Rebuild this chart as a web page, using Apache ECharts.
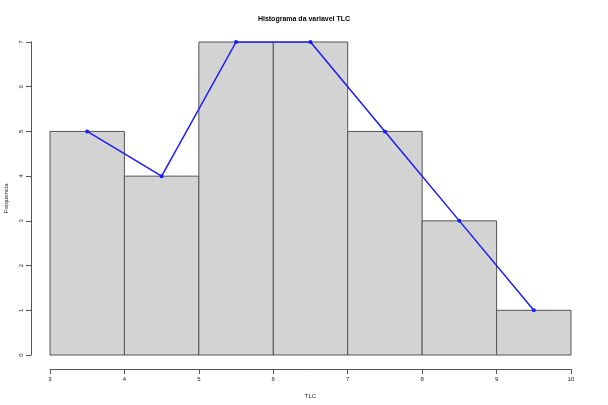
<!DOCTYPE html>
<html>
<head>
<meta charset="utf-8">
<script src="https://cdn.jsdelivr.net/npm/echarts@6/dist/echarts.min.js"></script>
<style>html,body{margin:0;padding:0;background:#fff}#c{width:608px;height:405px}</style>
</head>
<body>
<div id="c"></div>
<script>
var binStart = [3, 4, 5, 6, 7, 8, 9];
var binEnd = [4, 5, 6, 7, 8, 9, 10];
var counts = [5, 4, 7, 7, 5, 3, 1];
var midpoints = [3.5, 4.5, 5.5, 6.5, 7.5, 8.5, 9.5];
var xTicks = [3, 4, 5, 6, 7, 8, 9, 10];
var yTicks = [0, 1, 2, 3, 4, 5, 6, 7];

var chart = echarts.init(document.getElementById('c'));
var barData = binStart.map(function (s, i) { return [s, binEnd[i], counts[i]]; });
var lineData = midpoints.map(function (m, i) { return [m, counts[i]]; });

chart.setOption({
  animation: false,
  title: {
    text: 'Histograma da variavel TLC',
    left: 'center', top: 11,
    textStyle: { fontSize: 7, fontWeight: 'bold', color: '#000', fontFamily: 'Liberation Sans' }
  },
  grid: { left: 50, right: 37, top: 42, bottom: 50, outerBoundsMode: 'none', containLabel: false },
  xAxis: {
    type: 'value', min: 3, max: 10, interval: 1, offset: 14,
    name: 'TLC', nameLocation: 'middle', nameGap: 24,
    nameTextStyle: { fontSize: 6, color: '#222', fontFamily: 'Liberation Sans' },
    axisLine: { show: true, onZero: false, lineStyle: { color: '#555', width: 1 } },
    axisTick: { show: true, length: 5, lineStyle: { color: '#555' } },
    axisLabel: { fontSize: 6, color: '#222', margin: 7, fontFamily: 'Liberation Sans' },
    splitLine: { show: false }
  },
  yAxis: {
    type: 'value', min: 0, max: 7, interval: 1, offset: 19,
    name: 'Frequencia', nameLocation: 'middle', nameGap: 22, nameRotate: 90,
    nameTextStyle: { fontSize: 6, color: '#222', fontFamily: 'Liberation Sans' },
    axisLine: { show: true, onZero: false, lineStyle: { color: '#555', width: 1 } },
    axisTick: { show: true, length: 5, lineStyle: { color: '#555' } },
    axisLabel: { fontSize: 6, color: '#222', margin: 7, rotate: 90, fontFamily: 'Liberation Sans' },
    splitLine: { show: false }
  },
  series: [
    {
      type: 'custom',
      data: barData,
      renderItem: function (params, api) {
        var p0 = api.coord([api.value(0), 0]);
        var p1 = api.coord([api.value(1), api.value(2)]);
        return {
          type: 'rect',
          shape: { x: p0[0], y: p1[1], width: p1[0] - p0[0], height: p0[1] - p1[1] },
          style: { fill: '#d3d3d3', stroke: '#555', lineWidth: 1 }
        };
      },
      encode: { x: [0, 1], y: 2 }
    },
    {
      type: 'line',
      data: lineData,
      symbol: 'circle', symbolSize: 4,
      lineStyle: { color: '#1a1aff', width: 1.5 },
      itemStyle: { color: '#1a1aff' },
      z: 5
    }
  ]
});
</script>
</body>
</html>
